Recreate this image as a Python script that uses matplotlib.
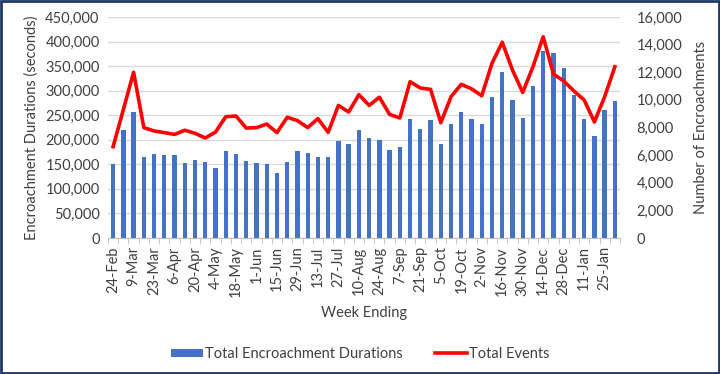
import matplotlib
matplotlib.use("Agg")
import matplotlib.pyplot as plt
from matplotlib.patches import Rectangle
from matplotlib.ticker import FuncFormatter, MultipleLocator
import numpy as np

plt.rcParams['font.family'] = ['Lato', 'DejaVu Sans']

weeks = ["24-Feb", "2-Mar", "9-Mar", "16-Mar", "23-Mar", "30-Mar", "6-Apr", "13-Apr",
         "20-Apr", "27-Apr", "4-May", "11-May", "18-May", "25-May", "1-Jun", "8-Jun",
         "15-Jun", "22-Jun", "29-Jun", "6-Jul", "13-Jul", "20-Jul", "27-Jul", "3-Aug",
         "10-Aug", "17-Aug", "24-Aug", "31-Aug", "7-Sep", "14-Sep", "21-Sep", "28-Sep",
         "5-Oct", "12-Oct", "19-Oct", "26-Oct", "2-Nov", "9-Nov", "16-Nov", "23-Nov",
         "30-Nov", "7-Dec", "14-Dec", "21-Dec", "28-Dec", "4-Jan", "11-Jan", "18-Jan",
         "25-Jan", "1-Feb"]

durations = [150000, 220500, 256600, 165000, 171000, 169600, 169600, 153400, 158200, 154100,
             142500, 177100, 171000, 156100, 152000, 150000, 131700, 154800, 177100, 172400,
             165000, 165000, 198200, 190700, 220500, 204300, 199500, 179900, 184600, 242900,
             222000, 240300, 190700, 232100, 256600, 241600, 231500, 287700, 338000, 281000,
             245000, 310100, 380800, 376700, 346800, 290500, 241600, 207700, 261200, 279000]

events = [6610, 9300, 12000, 7990, 7750, 7630, 7500, 7800, 7580, 7240,
          7670, 8780, 8830, 7960, 7990, 8250, 7630, 8740, 8500, 7990,
          8640, 7650, 9600, 9120, 10380, 9600, 10190, 8950, 8690, 11320,
          10860, 10760, 8350, 10230, 11130, 10800, 10300, 12650, 14170, 12160,
          10540, 12400, 14570, 11870, 11370, 10640, 9990, 8400, 10230, 12400]

fig = plt.figure(figsize=(7.2, 3.74), dpi=100)
ax = fig.add_axes([108/720, 1-238/374, 512/720, 221/374])
x = np.arange(len(weeks))
bars = ax.bar(x, durations, width=0.42, color='#4472C4', zorder=2,
              label='Total Encroachment Durations')
ax.set_xlim(-0.5, len(weeks)-0.5)
ax.set_ylim(0, 450000)
ax.yaxis.set_major_locator(MultipleLocator(50000))
ax.yaxis.set_major_formatter(FuncFormatter(lambda v, p: f"{int(v):,}"))
ax.grid(axis='y', color='#D9D9D9', linewidth=1, zorder=0)
ax.set_axisbelow(True)
for s in ['top', 'left', 'right']:
    ax.spines[s].set_visible(False)
ax.spines['bottom'].set_color('#BFBFBF')
ax.set_xticks(x[::2])
ax.set_xticklabels(weeks[::2], rotation=90, fontsize=10.5, color='#404040')
ax.set_xticks(np.arange(-0.5, len(weeks), 1), minor=True)
ax.tick_params(axis='x', which='major', length=0, pad=6)
ax.tick_params(axis='x', which='minor', length=4, color='#BFBFBF')
ax.tick_params(axis='y', length=0, labelsize=10.5, labelcolor='#404040', pad=6)
ax.set_ylabel('Encroachment Durations (seconds)', fontsize=10.5, color='#404040', labelpad=5)
ax.set_xlabel('Week Ending', fontsize=10.5, color='#404040', labelpad=6)

ax2 = ax.twinx()
line, = ax2.plot(x, events, color='#FF0000', linewidth=2.6, zorder=3, label='Total Events')
ax2.set_ylim(0, 16000)
ax2.yaxis.set_major_locator(MultipleLocator(2000))
ax2.yaxis.set_major_formatter(FuncFormatter(lambda v, p: f"{int(v):,}"))
for s in ['top', 'left', 'right', 'bottom']:
    ax2.spines[s].set_visible(False)
ax2.tick_params(axis='y', length=0, labelsize=10.5, labelcolor='#404040', pad=12)
ax2.set_ylabel('Number of Encroachments', fontsize=10.5, color='#404040', labelpad=8)

fig.legend(handles=[bars, line], loc='lower center', bbox_to_anchor=(0.5, 0.0),
           ncol=2, frameon=False, fontsize=10.5, handlelength=2.2, handleheight=0.5,
           columnspacing=2.2, handletextpad=0.15, labelcolor='#404040')

fig.patches.append(Rectangle((0.002, 0.003), 0.996, 0.994, transform=fig.transFigure,
                             fill=False, edgecolor='#1F3864', linewidth=2))

fig.savefig('out.png', dpi=100)
